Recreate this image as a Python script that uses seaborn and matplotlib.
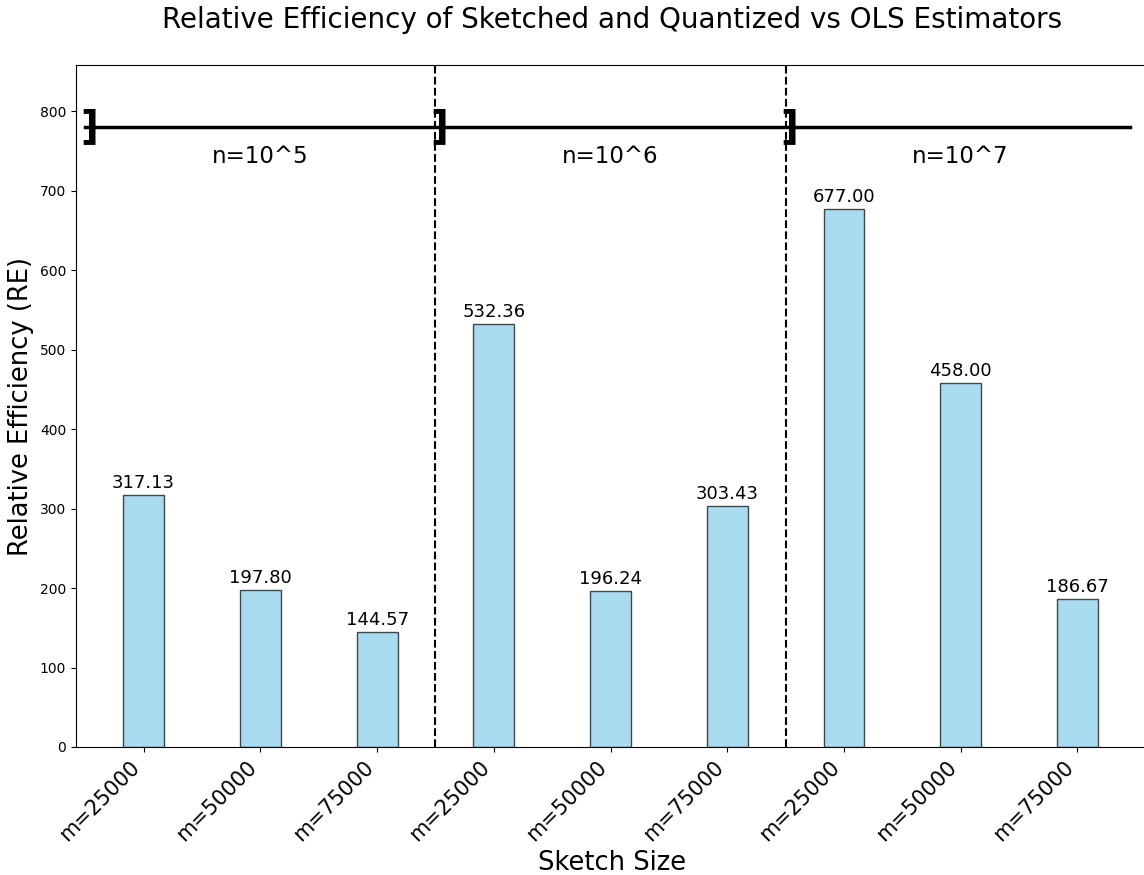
import numpy as np
import pandas as pd
import seaborn as sns
import matplotlib
matplotlib.use('Agg')
import matplotlib.pyplot as plt

groups = ['n=10^5', 'n=10^6', 'n=10^7']
sketch_sizes = ['m=25000', 'm=50000', 'm=75000']
re_values = [317.13, 197.80, 144.57,
             532.36, 196.24, 303.43,
             677.00, 458.00, 186.67]
bracket_y = 780

df = pd.DataFrame({
    'key': [g + '_' + m for g in groups for m in sketch_sizes],
    'label': [m for g in groups for m in sketch_sizes],
    're': re_values,
})

fig = plt.figure(figsize=(11.44, 8.75), dpi=100)
ax = fig.add_axes([0.0664, 0.1463, 0.9366, 0.7794])

sns.barplot(data=df, x='key', y='re', ax=ax, width=0.35, color='skyblue',
            saturation=1, edgecolor='black', alpha=0.7)

for c in ax.containers:
    ax.bar_label(c, fmt='%.2f', fontsize=13, padding=2)

ax.set_xticks(range(len(df)))
ax.set_xticklabels(df['label'], rotation=45, ha='right', fontsize=15)
ax.set_xlim(-0.58, 8.6)
ax.set_ylim(0, bracket_y * 1.1)

# group separators
for i in range(1, len(groups)):
    ax.axvline(i * 3 - 0.5, color='black', linestyle='--', linewidth=1.5)

# group brackets
ax.plot([-0.5, len(df) - 0.55], [bracket_y, bracket_y], color='black', linewidth=2.5)
for i, g in enumerate(groups):
    ax.text(i * 3 - 0.47, bracket_y, ']', fontsize=28, fontweight='semibold',
            ha='center', va='center')
    ax.text(i * 3 + 1, bracket_y - 37, g, fontsize=16.5, ha='center', va='center')

ax.set_xlabel('Sketch Size', fontsize=18.5)
ax.set_ylabel('Relative Efficiency (RE)', fontsize=18.5)
ax.set_title('Relative Efficiency of Sketched and Quantized vs OLS Estimators',
             fontsize=20, pad=27)

fig.savefig('out.png', dpi=100)
plt.close()
